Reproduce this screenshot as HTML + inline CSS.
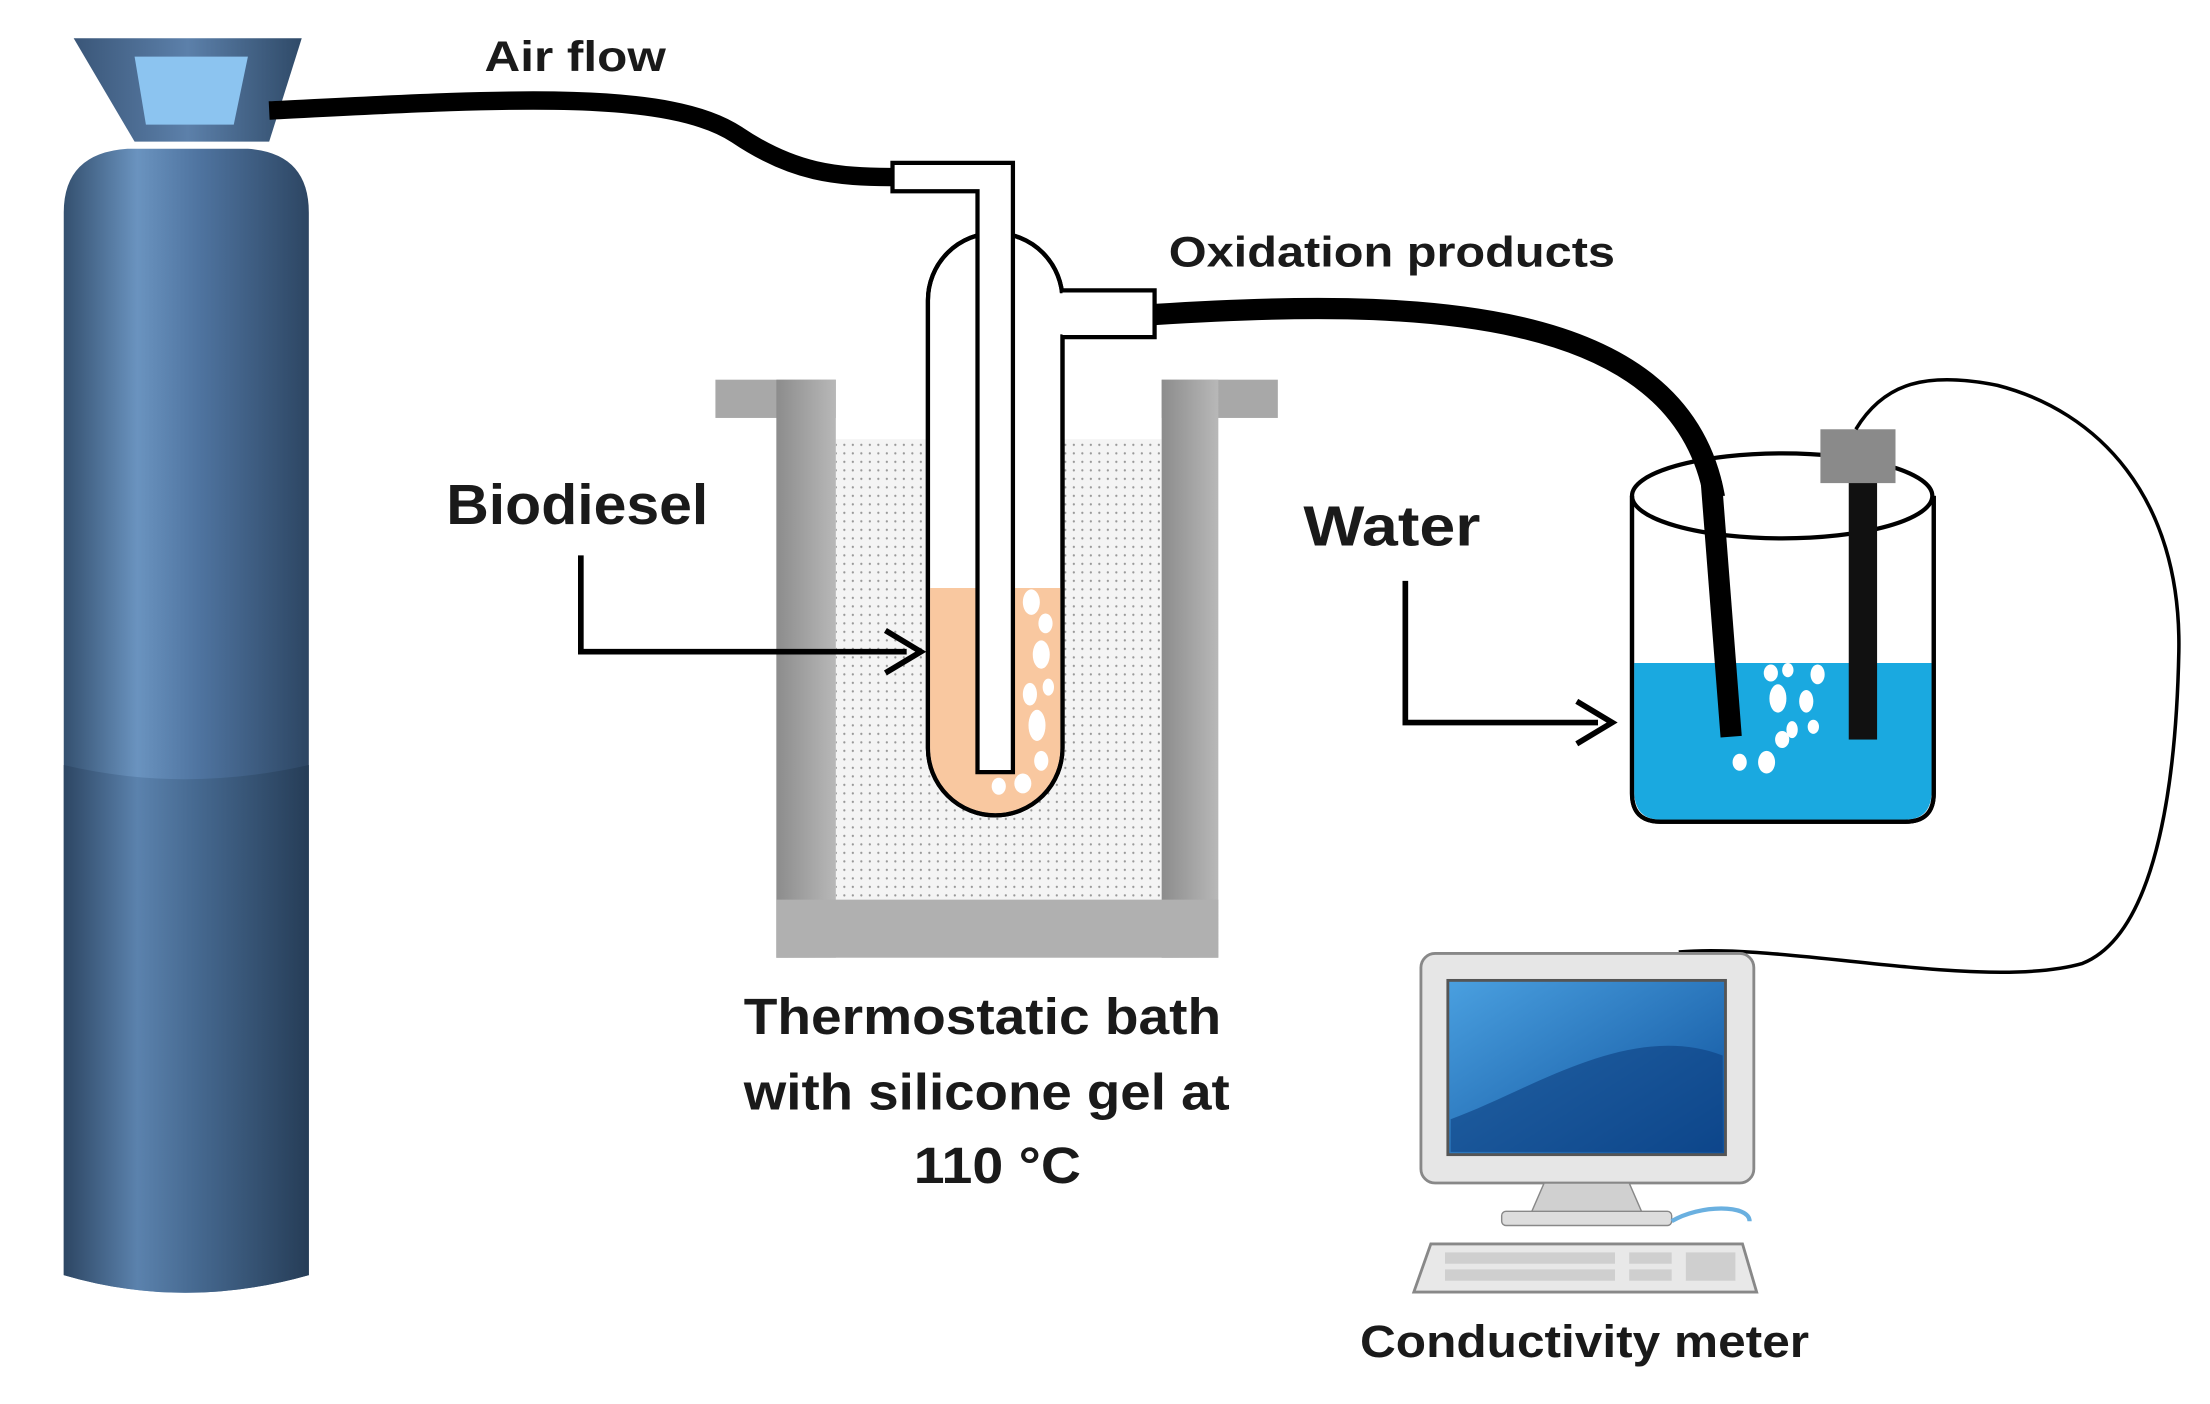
<!DOCTYPE html>
<html><head><meta charset="utf-8"><style>
html,body{margin:0;padding:0;background:#fff;width:2210px;height:1404px;overflow:hidden}
svg{display:block}
text{font-family:"Liberation Sans",sans-serif;font-weight:bold;fill:#1a1a1a}
</style></head><body>
<svg width="2210" height="1404" viewBox="0 0 1560 991" preserveAspectRatio="none" xmlns="http://www.w3.org/2000/svg">
<defs>
<linearGradient id="cyl" x1="0" x2="1" y1="0" y2="0">
<stop offset="0" stop-color="#34506f"/><stop offset="0.3" stop-color="#6a93bf"/><stop offset="0.55" stop-color="#4f74a0"/><stop offset="1" stop-color="#2d4663"/></linearGradient>
<linearGradient id="cyl2" x1="0" x2="1" y1="0" y2="0">
<stop offset="0" stop-color="#2d4663"/><stop offset="0.3" stop-color="#5b82ad"/><stop offset="0.55" stop-color="#45688f"/><stop offset="1" stop-color="#263d57"/></linearGradient>
<linearGradient id="cap" x1="0" x2="1"><stop offset="0" stop-color="#3a5678"/><stop offset="0.5" stop-color="#5c80aa"/><stop offset="1" stop-color="#2f4a68"/></linearGradient>
<linearGradient id="wall" x1="0" x2="1"><stop offset="0" stop-color="#8c8c8c"/><stop offset="1" stop-color="#b8b8b8"/></linearGradient>
<linearGradient id="scr" x1="0" y1="0" x2="1" y2="1"><stop offset="0" stop-color="#4aa0e0"/><stop offset="1" stop-color="#0d4f9a"/></linearGradient>
<pattern id="dots" width="6" height="6" patternUnits="userSpaceOnUse"><rect width="6" height="6" fill="#f4f4f4"/><circle cx="2" cy="2" r="0.8" fill="#999"/></pattern>
</defs>

<path d="M45,150 Q45,108 90,105 L175,105 Q218,108 218,150 L218,900 Q130,925 45,900 Z" fill="url(#cyl)"/>
<path d="M45,540 Q130,560 218,540 L218,900 Q130,925 45,900 Z" fill="url(#cyl2)"/>
<path d="M52,27 L213,27 L190,100 L95,100 Z" fill="url(#cap)"/>
<path d="M95,40 L175,40 L165,88 L103,88 Z" fill="#8cc4f0"/>

<path d="M190,78 C350,70 470,62 520,95 C560,122 590,125 632,125" fill="none" stroke="#000" stroke-width="13"/>
<text x="342" y="50" font-size="30" textLength="128" lengthAdjust="spacingAndGlyphs">Air flow</text>

<rect x="590" y="310" width="230" height="325" fill="url(#dots)"/>
<rect x="505" y="268" width="85" height="27" fill="#a8a8a8"/>
<rect x="820" y="268" width="82" height="27" fill="#a8a8a8"/>
<rect x="548" y="268" width="42" height="408" fill="url(#wall)"/>
<rect x="820" y="268" width="40" height="408" fill="url(#wall)"/>
<rect x="548" y="635" width="312" height="41" fill="#b0b0b0"/>

<path d="M655,212 A47,47 0 0 1 750,212 L750,528 A47,47 0 0 1 655,528 Z" fill="#fff" stroke="#000" stroke-width="3"/>
<path d="M656.5,415 L748.5,415 L748.5,528 A46,46 0 0 1 656.5,528 Z" fill="#f9c8a0"/>
<path d="M655,212 A47,47 0 0 1 750,212 L750,528 A47,47 0 0 1 655,528 Z" fill="none" stroke="#000" stroke-width="3"/>
<g fill="#fff">
<ellipse cx="728" cy="425" rx="6" ry="9"/><ellipse cx="738" cy="440" rx="5" ry="7"/><ellipse cx="735" cy="462" rx="6" ry="10"/><ellipse cx="727" cy="490" rx="5" ry="8"/><ellipse cx="740" cy="485" rx="4" ry="6"/><ellipse cx="732" cy="512" rx="6" ry="11"/><ellipse cx="735" cy="537" rx="5" ry="7"/><ellipse cx="722" cy="553" rx="6" ry="7"/><ellipse cx="705" cy="555" rx="5" ry="6"/><ellipse cx="712" cy="540" rx="4" ry="5"/>
</g>
<path d="M630,115 L715,115 L715,545 L690,545 L690,135 L630,135 Z" fill="#fff" stroke="#000" stroke-width="3"/>
<path d="M750,205 L815,205 L815,238 L750,238" fill="#fff" stroke="#000" stroke-width="3"/>
<rect x="745" y="207" width="8" height="29" fill="#fff"/>

<path d="M815,222 C1000,210 1185,215 1210,350 L1222,520" fill="none" stroke="#000" stroke-width="15"/>
<text x="825" y="188" font-size="30" textLength="315" lengthAdjust="spacingAndGlyphs">Oxidation products</text>

<path d="M1152,350 L1152,560 Q1152,580 1172,580 L1345,580 Q1365,580 1365,560 L1365,350" fill="#fff" stroke="#000" stroke-width="3"/>
<path d="M1153.5,468 L1363.5,468 L1363.5,558 Q1363.5,578.5 1345,578.5 L1172,578.5 Q1153.5,578.5 1153.5,558 Z" fill="#1aa9e0"/>
<path d="M1152,350 L1152,560 Q1152,580 1172,580 L1345,580 Q1365,580 1365,560 L1365,350" fill="none" stroke="#000" stroke-width="3"/>
<ellipse cx="1258" cy="350" rx="106" ry="30" fill="none" stroke="#000" stroke-width="3"/>
<path d="M1208,340 L1222,520" stroke="#000" stroke-width="15"/>
<g fill="#fff">
<ellipse cx="1250" cy="475" rx="5" ry="6"/><ellipse cx="1262" cy="473" rx="4" ry="5"/><ellipse cx="1283" cy="476" rx="5" ry="7"/><ellipse cx="1255" cy="493" rx="6" ry="10"/><ellipse cx="1275" cy="495" rx="5" ry="8"/><ellipse cx="1265" cy="515" rx="4" ry="6"/><ellipse cx="1280" cy="513" rx="4" ry="5"/><ellipse cx="1258" cy="522" rx="5" ry="6"/><ellipse cx="1247" cy="538" rx="6" ry="8"/><ellipse cx="1228" cy="538" rx="5" ry="6"/>
</g>
<rect x="1305" y="338" width="20" height="184" fill="#111"/>
<rect x="1285" y="303" width="53" height="38" fill="#8a8a8a"/>
<path d="M1310,303 C1330,270 1360,262 1410,272 C1480,290 1540,350 1538,460 C1536,560 1520,660 1470,680 C1400,700 1260,665 1185,672" fill="none" stroke="#000" stroke-width="2.5"/>

<text x="315" y="370" font-size="40" textLength="185" lengthAdjust="spacingAndGlyphs">Biodiesel</text>
<path d="M410,392 L410,460 L640,460" fill="none" stroke="#000" stroke-width="4"/>
<path d="M625,445 L650,460 L625,475" fill="none" stroke="#000" stroke-width="4"/>
<text x="920" y="385" font-size="40" textLength="125" lengthAdjust="spacingAndGlyphs">Water</text>
<path d="M992,410 L992,510 L1128,510" fill="none" stroke="#000" stroke-width="4"/>
<path d="M1113,495 L1138,510 L1113,525" fill="none" stroke="#000" stroke-width="4"/>

<text x="525" y="730" font-size="36" textLength="337" lengthAdjust="spacingAndGlyphs">Thermostatic bath</text>
<text x="525" y="783" font-size="36" textLength="343" lengthAdjust="spacingAndGlyphs">with silicone gel at</text>
<text x="645" y="835" font-size="36" textLength="118" lengthAdjust="spacingAndGlyphs">110 °C</text>

<rect x="1003" y="673" width="235" height="162" rx="10" fill="#e6e6e6" stroke="#888" stroke-width="2"/>
<rect x="1022" y="692" width="196" height="123" fill="url(#scr)" stroke="#555" stroke-width="2"/>
<path d="M1024,790 C1080,770 1150,720 1216,745 L1216,813 L1024,813 Z" fill="#0d3f80" opacity="0.6"/>
<path d="M1090,835 L1150,835 L1160,858 L1080,858 Z" fill="#d0d0d0" stroke="#888"/>
<rect x="1060" y="855" width="120" height="10" rx="3" fill="#ddd" stroke="#888"/>
<path d="M1180,862 C1200,850 1235,850 1235,862" fill="none" stroke="#6ab0e0" stroke-width="3"/>
<path d="M1010,878 L1230,878 L1240,912 L998,912 Z" fill="#e8e8e8" stroke="#888" stroke-width="2"/>
<g fill="#cfcfcf"><rect x="1020" y="884" width="120" height="8"/><rect x="1020" y="896" width="120" height="8"/><rect x="1150" y="884" width="30" height="8"/><rect x="1190" y="884" width="35" height="20"/><rect x="1150" y="896" width="30" height="8"/></g>
<text x="960" y="958" font-size="32" textLength="317" lengthAdjust="spacingAndGlyphs">Conductivity meter</text>
</svg>
</body></html>
